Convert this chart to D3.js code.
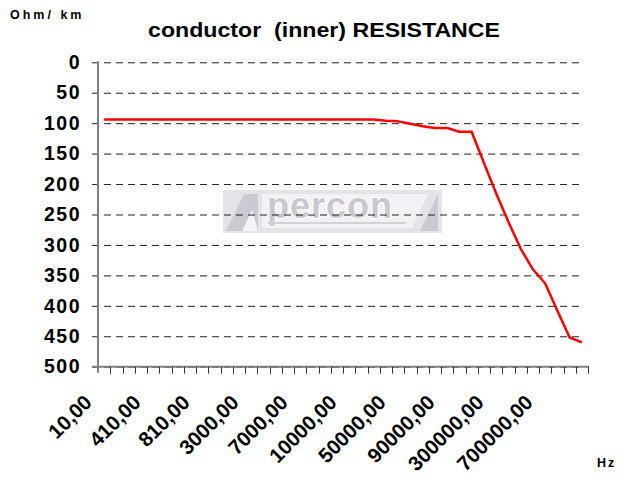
<!DOCTYPE html>
<html>
<head>
<meta charset="utf-8">
<script src="https://cdn.jsdelivr.net/npm/d3@7"></script>
<style>
  html, body { margin: 0; padding: 0; background: #fff; }
  svg { display: block; font-family: "Liberation Sans", Arial, sans-serif; }
  text { white-space: pre; }
</style>
</head>
<body>
<svg id="chart" width="630" height="482"></svg>
<script>
// ---- data ----
const categories = [
  "10,00","110,00","210,00","310,00","410,00","510,00","610,00","710,00","810,00","910,00",
  "1000,00","2000,00","3000,00","4000,00","5000,00","6000,00","7000,00","8000,00","9000,00","9500,00",
  "10000,00","20000,00","30000,00","40000,00","50000,00","60000,00","70000,00","80000,00","90000,00","100000,00",
  "150000,00","200000,00","300000,00","400000,00","500000,00","600000,00","700000,00","800000,00","900000,00","1000000,00"
];
const resistance = [
  94,94,94,94,94,94,94,94,94,94,
  94,94,94,94,94,94,94,94,94,94,
  94,94,94,96,97,101,105,108,108,114,
  114,165,215,262,306,340,363,408,452,460
];
const yTicks = [0,50,100,150,200,250,300,350,400,450,500];
const labelEvery = 4;

const title = "conductor  (inner) RESISTANCE";
const yUnit = "Ohm/ km";
const xUnit = "Hz";

// ---- layout ----
const svg = d3.select("#chart");
const pLeft = 98, pRight = 588, pTop = 62.3, pBottom = 366.7;

const x = d3.scaleBand().domain(categories).range([pLeft, pRight]).padding(0);
const y = d3.scaleLinear().domain([0, 500]).range([pTop, pBottom]);

// watermark logo
const wm = svg.append("g").attr("class", "watermark");
wm.append("rect").attr("x", 223).attr("y", 190).attr("width", 219).attr("height", 43)
  .attr("fill", "#e4e4e8");
wm.append("path").attr("d", "M226,231 L244,194 L258,194 L258,231 Z").attr("fill", "#cacad2");
wm.append("path").attr("d", "M242,231 L252,210 L258,231 Z").attr("fill", "#f4f4f6");
wm.append("path").attr("d", "M262,194 L428,194 L412,228 L262,228 Z").attr("fill", "#f2f2f4");
wm.append("path").attr("d", "M420,231 L438,194 L438,231 Z").attr("fill", "#cacad2");
wm.append("text").attr("x", 330).attr("y", 218).attr("text-anchor", "middle")
  .attr("font-size", 36).attr("font-weight", "bold").attr("fill", "#c8c8d0")
  .attr("stroke", "#ffffff").attr("stroke-width", 2).attr("paint-order", "stroke")
  .attr("letter-spacing", 1).text("percon");
wm.append("rect").attr("x", 268).attr("y", 222).attr("width", 138).attr("height", 2).attr("fill", "#d2d2d8");

// gridlines + y labels via axis
const yAxis = d3.axisLeft(y).tickValues(yTicks).tickSize(-(pRight - 6 - 92)).tickPadding(11)
  .tickFormat(d3.format("d"));
const gy = svg.append("g").attr("transform", "translate(92,0)").call(yAxis);
gy.select(".domain").remove();
gy.selectAll(".tick line").attr("stroke", "#222").attr("stroke-width", 1)
  .attr("stroke-dasharray", "7,5");
gy.selectAll(".tick text").attr("fill", "#000").attr("font-size", 19.5)
  .attr("letter-spacing", 1.5)
  .attr("font-weight", "bold").attr("font-family", "Liberation Sans, Arial, sans-serif");

// axes lines
svg.append("line").attr("x1", pLeft).attr("x2", pLeft).attr("y1", pTop - 1).attr("y2", pBottom + 6)
  .attr("stroke", "#808080").attr("stroke-width", 2);
svg.append("line").attr("x1", 92).attr("x2", pRight + 1).attr("y1", pBottom).attr("y2", pBottom)
  .attr("stroke", "#808080").attr("stroke-width", 2);

// x ticks at category boundaries
svg.append("g").selectAll("line").data(categories).join("line")
  .attr("x1", d => Math.round(x(d) + x.bandwidth()) + 0.5)
  .attr("x2", d => Math.round(x(d) + x.bandwidth()) + 0.5)
  .attr("y1", pBottom).attr("y2", pBottom + 7)
  .attr("stroke", "#333").attr("stroke-width", 1);

// x labels
const labeled = categories.filter((d, i) => i % labelEvery === 0);
svg.append("g").selectAll("text").data(labeled).join("text")
  .attr("transform", d => `translate(${x(d) + x.bandwidth() / 2 - 11},${pBottom + 37}) rotate(-45)`)
  .attr("text-anchor", "end")
  .attr("font-size", 20.5).attr("font-weight", "bold").attr("fill", "#000")
  .text(d => d);

// line
const line = d3.line().x((d, i) => x(categories[i]) + x.bandwidth() / 2).y(d => y(d));
svg.append("path").datum(resistance).attr("d", line)
  .attr("fill", "none").attr("stroke", "#ff0000").attr("stroke-width", 2.5)
  .attr("stroke-linejoin", "round");

// titles
svg.append("text").attr("x", 148).attr("y", 37)
  .attr("textLength", 352).attr("lengthAdjust", "spacingAndGlyphs")
  .attr("font-size", 21).attr("font-weight", "bold").attr("fill", "#000").text(title);
svg.append("text").attr("x", 10).attr("y", 19).attr("font-size", 12.5)
  .attr("font-weight", "bold").attr("letter-spacing", 3).attr("fill", "#000").text(yUnit);
svg.append("text").attr("x", 597).attr("y", 467).attr("font-size", 12.5)
  .attr("font-weight", "bold").attr("letter-spacing", 2).attr("fill", "#000").text(xUnit);
</script>
</body>
</html>
